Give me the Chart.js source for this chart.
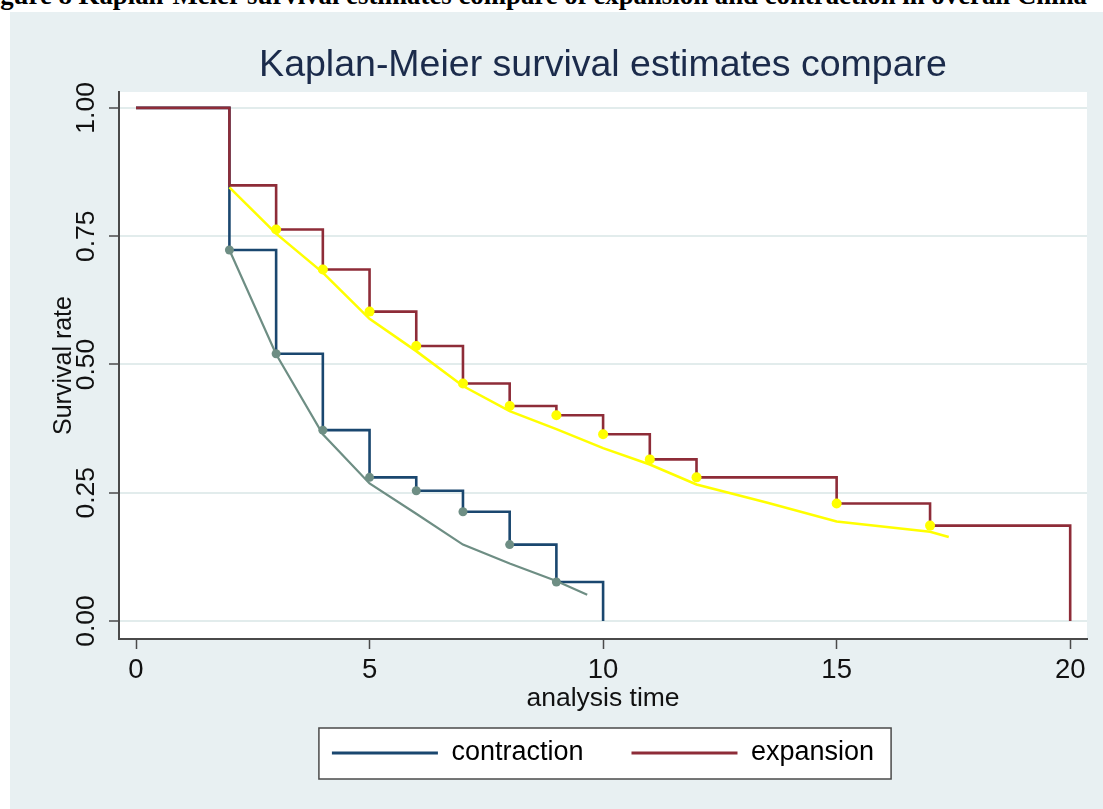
<!DOCTYPE html>
<html>
<head>
<meta charset="utf-8">
<script src="https://cdn.jsdelivr.net/npm/chart.js@4.4.1/dist/chart.umd.min.js"></script>
<style>
  body { margin: 0; background: #fff; width: 1103px; height: 809px; overflow: hidden; position: relative; }
  #caption {
    position: absolute; left: -23.6px; top: -20px; white-space: nowrap;
    font: bold 26.8px "Liberation Serif", "Times New Roman", serif; line-height: 30px; color: #000;
  }
  #panel { position: absolute; left: 10px; top: 12px; width: 1093px; height: 797px; background: #e8f0f2; }
</style>
</head>
<body>
<div id="caption">Figure 8 Kaplan-Meier survival estimates compare of expansion and contraction in overall China</div>
<div id="panel"><canvas id="kmChart" width="1093" height="797"></canvas></div>
<script>
// Kaplan-Meier step estimates
const expTime = [0, 2, 3, 4, 5, 6, 7, 8, 9, 10, 11, 12, 15, 17, 20];
const expSurv = [1.00, 0.849, 0.763, 0.685, 0.603, 0.536, 0.463, 0.419, 0.401, 0.364, 0.315, 0.280, 0.229, 0.186, 0.00];
const conTime = [0, 2, 3, 4, 5, 6, 7, 8, 9, 10];
const conSurv = [1.00, 0.723, 0.521, 0.372, 0.280, 0.254, 0.213, 0.149, 0.076, 0.00];

// which step points carry a marker
const expDotIdx = [2, 3, 4, 5, 6, 7, 8, 9, 10, 11, 12, 13];
const conDotIdx = [1, 2, 3, 4, 5, 6, 7, 8];

// fitted curves
const expFitTime = [2, 3, 4, 5, 6, 7, 8, 9, 10, 11, 12, 13.5, 15, 17, 17.4];
const expFitSurv = [0.845, 0.755, 0.679, 0.589, 0.526, 0.458, 0.409, 0.374, 0.337, 0.305, 0.266, 0.231, 0.194, 0.174, 0.164];
const conFitTime = [2, 3, 4, 5, 6, 7, 8, 9, 9.66];
const conFitSurv = [0.723, 0.520, 0.364, 0.268, 0.209, 0.149, 0.112, 0.078, 0.051];

const xTicks = [0, 5, 10, 15, 20];
const yTicks = [0, 0.25, 0.5, 0.75, 1];
const legendNames = ['contraction', 'expansion'];

const NAVY = '#1a476f', MAROON = '#8e2c38', YELLOW = '#ffff00', TEAL = '#6e8e84';
const FONT = '"Liberation Sans", Arial, sans-serif';

const pts = (xs, ys) => xs.map((x, i) => ({x: x, y: ys[i]}));
const pick = (xs, ys, idx) => idx.map(i => ({x: xs[i], y: ys[i]}));

// white plot region + boxed legend
const stataBg = {
  id: 'stataBg',
  beforeDraw(chart) {
    const ctx = chart.ctx, a = chart.chartArea;
    ctx.save();
    ctx.fillStyle = '#fff';
    ctx.fillRect(a.left, a.top, a.right - a.left, a.bottom - a.top);
    const hb = chart.legend.legendHitBoxes;
    if (hb && hb.length) {
      const first = hb[0], last = hb[hb.length - 1];
      const cy = first.top + 13.5;
      const l = first.left - 13, r = last.left + last.width + 17;
      ctx.fillRect(l, cy - 25, r - l, 51);
      ctx.strokeStyle = '#4a4a4a';
      ctx.lineWidth = 1.5;
      ctx.strokeRect(l, cy - 25, r - l, 51);
    }
    ctx.restore();
  }
};

new Chart(document.getElementById('kmChart'), {
  type: 'line',
  data: {
    datasets: [
      { label: legendNames[0], data: pts(conTime, conSurv), stepped: 'before', borderColor: NAVY,
        borderWidth: 2.6, pointRadius: 0, fill: false, order: 3 },
      { label: legendNames[1], data: pts(expTime, expSurv), stepped: 'before', borderColor: MAROON,
        borderWidth: 2.6, pointRadius: 0, fill: false, order: 2 },
      { label: 'expansion fit', data: pts(expFitTime, expFitSurv), borderColor: YELLOW,
        borderWidth: 2.6, pointRadius: 0, tension: 0, fill: false, order: 1 },
      { label: 'contraction fit', data: pts(conFitTime, conFitSurv), borderColor: TEAL,
        borderWidth: 2.2, pointRadius: 0, tension: 0, fill: false, order: 1 },
      { label: 'expansion obs', data: pick(expTime, expSurv, expDotIdx), showLine: false,
        pointRadius: 5, pointBackgroundColor: YELLOW, pointBorderWidth: 0, order: 0 },
      { label: 'contraction obs', data: pick(conTime, conSurv, conDotIdx), showLine: false,
        pointRadius: 4.5, pointBackgroundColor: TEAL, pointBorderWidth: 0, order: 0 }
    ]
  },
  options: {
    responsive: false,
    animation: false,
    events: [],
    layout: { padding: { left: 0, right: 16, top: 0, bottom: 32.5 } },
    plugins: {
      tooltip: { enabled: false },
      title: {
        display: true, fullSize: false,
        text: 'Kaplan-Meier survival estimates compare',
        color: '#1b2b4b',
        font: { family: FONT, size: 37.5, weight: 'normal' },
        padding: { top: 31.5, bottom: 3.5 }
      },
      legend: {
        display: true, position: 'bottom', fullSize: false,
        labels: {
          color: '#111',
          font: { family: FONT, size: 27 },
          boxWidth: 106, boxHeight: 3, padding: 48,
          generateLabels: chart => legendNames.map((name, i) => ({
            text: name, fillStyle: [NAVY, MAROON][i], strokeStyle: [NAVY, MAROON][i],
            lineWidth: 0, hidden: false, datasetIndex: i
          }))
        }
      }
    },
    scales: {
      x: {
        type: 'linear', min: -0.364, max: 20.36,
        afterBuildTicks: axis => { axis.ticks = xTicks.map(v => ({value: v})); },
        afterFit: axis => { axis.height = 52.5; },
        ticks: { autoSkip: false, color: '#111', font: { family: FONT, size: 27.5 }, padding: 5,
                 maxRotation: 0, callback: v => String(v) },
        grid: { drawOnChartArea: false, drawTicks: true, tickLength: 10, tickColor: '#4a4a4a', tickWidth: 1.5 },
        border: { display: true, color: '#4a4a4a', width: 2 },
        title: { display: true, text: 'analysis time', color: '#111',
                 font: { family: FONT, size: 26.5 }, padding: { top: 0, bottom: -23 } }
      },
      y: {
        type: 'linear', min: -0.035, max: 1.031,
        afterBuildTicks: axis => { axis.ticks = yTicks.map(v => ({value: v})); },
        afterFit: axis => { axis.width = 109; },
        ticks: { color: '#111', font: { family: FONT, size: 26.5 }, minRotation: 90, maxRotation: 90,
                 crossAlign: 'center', padding: -3, callback: v => v.toFixed(2) },
        grid: { color: '#e2ecec', lineWidth: 2, drawTicks: true, tickLength: 10, tickColor: '#4a4a4a', tickWidth: 1.5 },
        border: { display: true, color: '#4a4a4a', width: 2 },
        title: { display: true, text: 'Survival rate', color: '#111',
                 font: { family: FONT, size: 25 }, padding: { top: 39, bottom: 0 } }
      }
    }
  },
  plugins: [stataBg]
});
</script>
</body>
</html>
